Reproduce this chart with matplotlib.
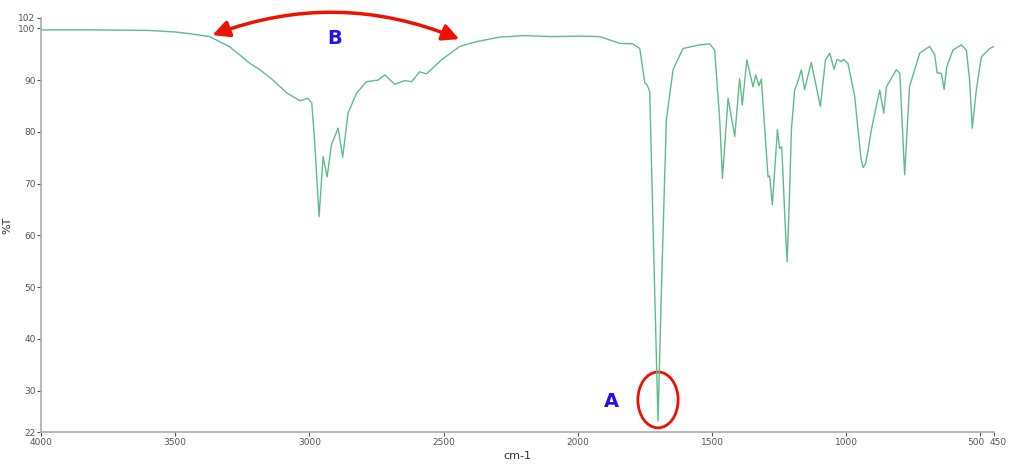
import matplotlib.pyplot as plt
import matplotlib.transforms as mtransforms
from matplotlib.patches import FancyArrowPatch, Ellipse

wavenumber = [4000, 3800, 3600, 3500, 3450, 3371, 3296, 3221, 3184, 3136, 3084,
              3061, 3035, 3006, 2991, 2980, 2964, 2949, 2934, 2918, 2893, 2876,
              2856, 2824, 2787, 2744, 2719, 2682, 2645, 2619, 2589, 2564, 2508,
              2440, 2380, 2291, 2200, 2100, 1993, 1918, 1844, 1795, 1769, 1750,
              1742, 1732, 1717, 1701, 1688, 1670, 1645, 1608, 1546, 1508, 1490,
              1471, 1461, 1440, 1415, 1397, 1387, 1370, 1347, 1337, 1325, 1316,
              1291, 1285, 1275, 1256, 1248, 1240, 1228, 1220, 1212, 1204, 1192,
              1180, 1167, 1155, 1130, 1114, 1096, 1077, 1061, 1045, 1034, 1018,
              1009, 993, 968, 955, 945, 937, 928, 918, 906, 875, 860, 850, 813,
              800, 782, 764, 726, 689, 670, 661, 645, 635, 625, 602, 571, 552,
              540, 530, 515, 496, 465, 450]
transmittance = [99.7, 99.7, 99.6, 99.3, 99.0, 98.4, 96.4, 93.2, 92.0, 90.0, 87.5,
                 86.8, 86.0, 86.5, 85.5, 77.8, 63.6, 75.2, 71.3, 77.5, 80.7, 75.1,
                 83.6, 87.5, 89.7, 90.0, 91.0, 89.2, 89.9, 89.7, 91.6, 91.2, 93.9,
                 96.5, 97.4, 98.3, 98.6, 98.4, 98.5, 98.4, 97.1, 97.0, 96.1, 89.4,
                 89.1, 87.8, 56.6, 24.1, 50.1, 82.3, 92.0, 96.1, 96.8, 97.0, 95.8,
                 82.3, 71.0, 86.5, 79.1, 90.3, 85.2, 93.9, 88.7, 91.0, 88.9, 90.2,
                 71.3, 71.5, 65.9, 80.4, 76.8, 77.1, 63.0, 54.9, 66.0, 80.4, 88.1,
                 89.7, 92.0, 88.2, 93.4, 89.4, 84.9, 93.9, 95.2, 92.1, 94.0, 93.6,
                 94.0, 93.2, 86.8, 80.0, 75.0, 73.1, 73.8, 76.5, 80.4, 88.1, 83.6,
                 88.7, 92.0, 91.3, 71.7, 88.7, 95.2, 96.5, 94.9, 91.4, 91.3, 88.2,
                 92.6, 95.8, 96.8, 95.8, 90.0, 80.7, 88.1, 94.5, 96.1, 96.5]

xticks = [4000, 3500, 3000, 2500, 2000, 1500, 1000, 500, 450]
yticks = [22, 30, 40, 50, 60, 70, 80, 90, 100, 102]

fig = plt.figure(figsize=(10.13, 4.71), dpi=100)
ax = fig.add_axes([0.0405, 0.0828, 0.9405, 0.879])

ax.plot(wavenumber, transmittance, color='#5fbb8c', linewidth=1)

ax.set_xlim(4000, 450)
ax.set_ylim(22, 102)
ax.set_xticks(xticks)
ax.set_yticks(yticks)
ax.tick_params(labelsize=6.5, colors='#555555', length=3, width=0.8)
ax.tick_params(axis='x', pad=1)
ax.tick_params(axis='y', pad=1)
for s in ['top', 'right']:
    ax.spines[s].set_visible(False)
for s in ['left', 'bottom']:
    ax.spines[s].set_color('#aaaaaa')
    ax.spines[s].set_linewidth(1.2)

# separar un poco 500 y 450 para que no se pisen
labels = ax.get_xticklabels()
labels[-2].set_transform(labels[-2].get_transform() +
                         mtransforms.ScaledTranslation(-3/72, 0, fig.dpi_scale_trans))
labels[-1].set_transform(labels[-1].get_transform() +
                         mtransforms.ScaledTranslation(3/72, 0, fig.dpi_scale_trans))

ax.set_xlabel('cm-1', fontsize=8, color='#333333', labelpad=3)
ax.set_ylabel('%T', fontsize=8, color='#333333', labelpad=4)

# Anotaciones
flecha = FancyArrowPatch((3371, 98.5), (2432, 97.7),
                         connectionstyle='arc3,rad=-0.2',
                         arrowstyle='<|-|>,head_length=10,head_width=5',
                         color='#ee1100', linewidth=2.5, clip_on=False)
ax.add_patch(flecha)
ax.text(2905, 98.0, 'B', color='#2211ee', fontsize=14, fontweight='bold',
        ha='center', va='center')

ax.add_patch(Ellipse((1701, 28.2), 150, 10.8, fill=False, edgecolor='#ee1100',
                     linewidth=2, clip_on=False))
ax.text(1874, 27.8, 'A', color='#2211ee', fontsize=14, fontweight='bold',
        ha='center', va='center')

fig.savefig('out.png', dpi=100)
